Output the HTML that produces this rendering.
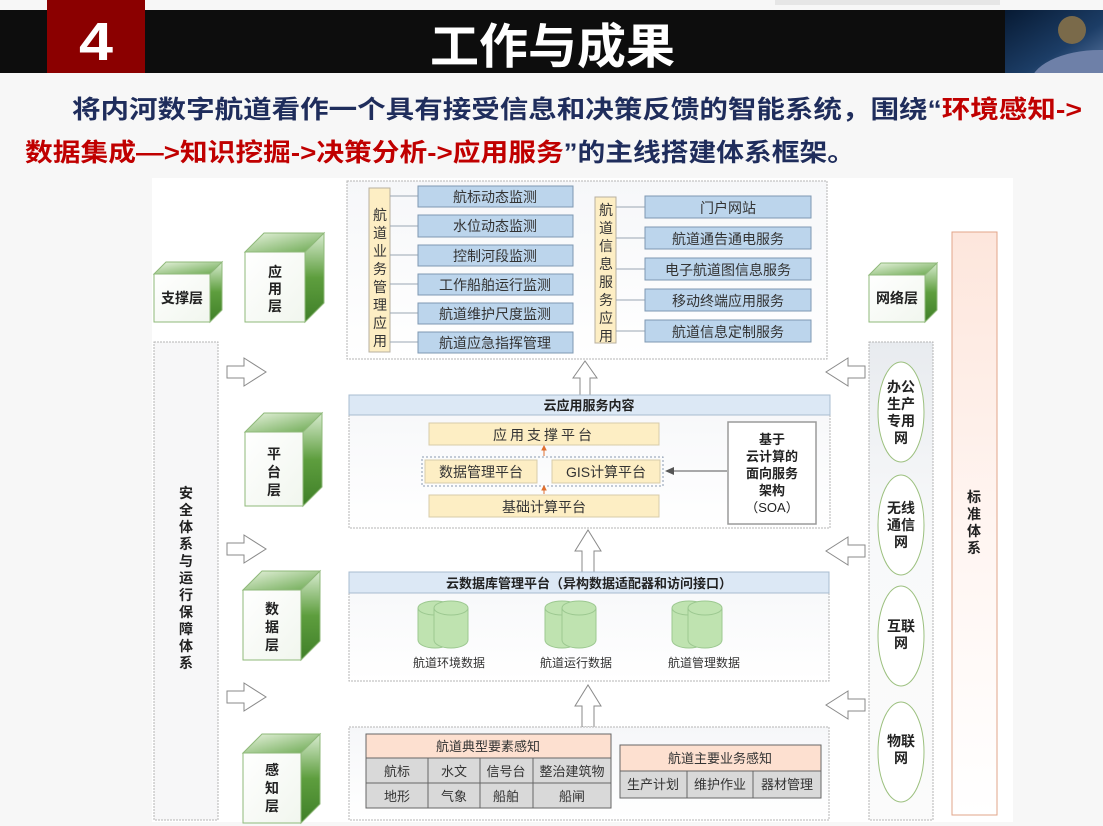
<!DOCTYPE html>
<html><head><meta charset="utf-8"><style>
html,body{margin:0;padding:0;background:#f7f7f7;}
body{width:1103px;height:826px;position:relative;overflow:hidden;font-family:"Liberation Sans","Noto Sans CJK SC",sans-serif;}
svg{position:absolute;left:0;top:0}
</style></head><body>
<svg width="1103" height="826" viewBox="0 0 1103 826" font-family="Liberation Sans, Noto Sans CJK SC, sans-serif">
<defs>
<linearGradient id="gTop" x1="0" y1="0" x2="1" y2="1"><stop offset="0" stop-color="#e8f3df"/><stop offset="1" stop-color="#6aa84f"/></linearGradient>
<linearGradient id="gRight" x1="0" y1="0" x2="0" y2="1"><stop offset="0" stop-color="#d8ecd0"/><stop offset="0.5" stop-color="#5e9e3e"/><stop offset="1" stop-color="#3f7f28"/></linearGradient>
<linearGradient id="gFront" x1="0" y1="0" x2="1" y2="1"><stop offset="0" stop-color="#ffffff"/><stop offset="1" stop-color="#f1f6ee"/></linearGradient>
<linearGradient id="gPanel" x1="0" y1="0" x2="0" y2="1"><stop offset="0" stop-color="#f6f7f9"/><stop offset="1" stop-color="#ffffff"/></linearGradient>
<linearGradient id="gStd" x1="0" y1="0" x2="0" y2="1"><stop offset="0" stop-color="#fde6dc"/><stop offset="0.5" stop-color="#fff5f1"/><stop offset="1" stop-color="#ffffff"/></linearGradient>
<linearGradient id="gNet" x1="0" y1="0" x2="0" y2="1"><stop offset="0" stop-color="#e8ebef"/><stop offset="0.4" stop-color="#f8f9fa"/><stop offset="1" stop-color="#fbfbfb"/></linearGradient>
<linearGradient id="gImg" x1="0" y1="0" x2="1" y2="1"><stop offset="0" stop-color="#071a33"/><stop offset="0.6" stop-color="#1c3d66"/><stop offset="1" stop-color="#5d79a3"/></linearGradient>
<clipPath id="imgClip"><rect x="1005" y="10" width="98" height="63"/></clipPath>
</defs>
<rect x="775" y="0" width="225" height="5" fill="#e6e6e6"/>
<rect x="0" y="10" width="1103" height="63" fill="#0d0d0d"/>
<rect x="47" y="0" width="98" height="73" fill="#8b0000"/>
<text x="96" y="60" font-size="54" font-weight="bold" fill="#fff" text-anchor="middle" textLength="34" lengthAdjust="spacingAndGlyphs">4</text>
<text x="430" y="63" font-size="48" font-weight="bold" fill="#fff" textLength="245" lengthAdjust="spacingAndGlyphs">工作与成果</text>
<g clip-path="url(#imgClip)">
<rect x="1005" y="10" width="98" height="63" fill="url(#gImg)"/>
<circle cx="1072" cy="30" r="14" fill="#7a6a4a"/>
<ellipse cx="1100" cy="85" rx="70" ry="35" fill="#6e80a8"/>
</g>
<text x="72" y="118" font-size="25" font-weight="bold" fill="#1f2d5c" textLength="1010" lengthAdjust="spacingAndGlyphs">将内河数字航道看作一个具有接受信息和决策反馈的智能系统，围绕“<tspan fill="#c00000">环境感知-&gt;</tspan></text>
<text x="25" y="161" font-size="25" font-weight="bold" fill="#c00000" textLength="830" lengthAdjust="spacingAndGlyphs">数据集成—&gt;知识挖掘-&gt;决策分析-&gt;应用服务<tspan fill="#1f2d5c">”的主线搭建体系框架。</tspan></text>
<rect x="152" y="178" width="861" height="644" fill="#fff"/>

<rect x="154" y="342" width="64" height="478" fill="#f7f7f8" stroke="#b5b5b5" stroke-dasharray="2,1"/>
<g font-size="14" font-weight="bold" fill="#222" text-anchor="middle">
<text x="186" y="498">安</text><text x="186" y="515">全</text><text x="186" y="532">体</text><text x="186" y="549">系</text><text x="186" y="566">与</text><text x="186" y="583">运</text><text x="186" y="600">行</text><text x="186" y="617">保</text><text x="186" y="634">障</text><text x="186" y="651">体</text><text x="186" y="668">系</text>
</g>

<g stroke="#8fb97a" stroke-width="1">
<polygon points="154,274 166,262 222,262 210,274" fill="url(#gTop)"/><polygon points="210,274 222,262 222,310 210,322" fill="url(#gRight)"/><rect x="154" y="274" width="56" height="48" fill="url(#gFront)"/>
<polygon points="245,252 264,233 324,233 305,252" fill="url(#gTop)"/><polygon points="305,252 324,233 324,303 305,322" fill="url(#gRight)"/><rect x="245" y="252" width="60" height="70" fill="url(#gFront)"/>
<polygon points="245,432 264,413 322,413 303,432" fill="url(#gTop)"/><polygon points="303,432 322,413 322,487 303,506" fill="url(#gRight)"/><rect x="245" y="432" width="58" height="74" fill="url(#gFront)"/>
<polygon points="243,590 262,571 320,571 301,590" fill="url(#gTop)"/><polygon points="301,590 320,571 320,641 301,660" fill="url(#gRight)"/><rect x="243" y="590" width="58" height="70" fill="url(#gFront)"/>
<polygon points="243,753 262,734 320,734 301,753" fill="url(#gTop)"/><polygon points="301,753 320,734 320,804 301,823" fill="url(#gRight)"/><rect x="243" y="753" width="58" height="70" fill="url(#gFront)"/>
<polygon points="869,275 881,263 937,263 925,275" fill="url(#gTop)"/><polygon points="925,275 937,263 937,310 925,322" fill="url(#gRight)"/><rect x="869" y="275" width="56" height="47" fill="url(#gFront)"/>
</g>
<g font-size="14" font-weight="bold" fill="#222" text-anchor="middle">
<text x="182" y="303">支撑层</text>
<text x="275" y="277">应</text><text x="275" y="294">用</text><text x="275" y="311">层</text>
<text x="274" y="459">平</text><text x="274" y="477">台</text><text x="274" y="495">层</text>
<text x="272" y="614">数</text><text x="272" y="632">据</text><text x="272" y="650">层</text>
<text x="272" y="775">感</text><text x="272" y="793">知</text><text x="272" y="811">层</text>
<text x="897" y="303">网络层</text>
</g>

<g fill="#fff" stroke="#8a8a8a" stroke-width="1">
<polygon points="227,366 244,366 244,358 266,372 244,386 244,378 227,378"/>
<polygon points="227,543 244,543 244,535 266,549 244,563 244,555 227,555"/>
<polygon points="227,691 244,691 244,683 266,697 244,711 244,703 227,703"/>
<polygon points="865,366 848,366 848,358 826,372 848,386 848,378 865,378"/>
<polygon points="865,545 848,545 848,537 826,551 848,565 848,557 865,557"/>
<polygon points="865,699 848,699 848,691 826,705 848,719 848,711 865,711"/>
<polygon points="580,395 580,378 573,378 585,361 597,378 590,378 590,395"/>
<polygon points="582,572 582,551 575,551 588,530 601,551 594,551 594,572"/>
<polygon points="582,727 582,706 575,706 588,685 601,706 594,706 594,727"/>
</g>

<rect x="347" y="181" width="480" height="178" fill="url(#gPanel)" stroke="#b5b5b5" stroke-dasharray="2,1"/>
<rect x="369" y="188" width="21" height="164" fill="#fdeec4" stroke="#b8b0a0"/>
<g font-size="14" fill="#333" text-anchor="middle">
<text x="380" y="220">航</text><text x="380" y="238">道</text><text x="380" y="256">业</text><text x="380" y="274">务</text><text x="380" y="292">管</text><text x="380" y="310">理</text><text x="380" y="328">应</text><text x="380" y="346">用</text>
</g>
<g stroke="#9aa6b3"><line x1="390" y1="196" x2="418" y2="196"/><line x1="390" y1="226" x2="418" y2="226"/><line x1="390" y1="255" x2="418" y2="255"/><line x1="390" y1="284" x2="418" y2="284"/><line x1="390" y1="313" x2="418" y2="313"/><line x1="390" y1="342" x2="418" y2="342"/></g>
<g fill="#bcd5ec" stroke="#7e98b2">
<rect x="418" y="186" width="155" height="21"/><rect x="418" y="215" width="155" height="22"/><rect x="418" y="245" width="155" height="21"/><rect x="418" y="274" width="155" height="21"/><rect x="418" y="303" width="155" height="21"/><rect x="418" y="332" width="155" height="21"/>
</g>
<g font-size="14" fill="#333" text-anchor="middle">
<text x="495" y="202">航标动态监测</text><text x="495" y="231">水位动态监测</text><text x="495" y="261">控制河段监测</text><text x="495" y="290">工作船舶运行监测</text><text x="495" y="319">航道维护尺度监测</text><text x="495" y="348">航道应急指挥管理</text>
</g>
<rect x="595" y="197" width="21" height="146" fill="#fdeec4" stroke="#b8b0a0"/>
<g font-size="14" fill="#333" text-anchor="middle">
<text x="606" y="215">航</text><text x="606" y="233">道</text><text x="606" y="251">信</text><text x="606" y="269">息</text><text x="606" y="287">服</text><text x="606" y="305">务</text><text x="606" y="323">应</text><text x="606" y="341">用</text>
</g>
<g stroke="#9aa6b3"><line x1="616" y1="207" x2="645" y2="207"/><line x1="616" y1="238" x2="645" y2="238"/><line x1="616" y1="269" x2="645" y2="269"/><line x1="616" y1="300" x2="645" y2="300"/><line x1="616" y1="331" x2="645" y2="331"/></g>
<g fill="#bcd5ec" stroke="#7e98b2">
<rect x="645" y="196" width="166" height="22"/><rect x="645" y="227" width="166" height="22"/><rect x="645" y="258" width="166" height="22"/><rect x="645" y="289" width="166" height="22"/><rect x="645" y="320" width="166" height="22"/>
</g>
<g font-size="14" fill="#333" text-anchor="middle">
<text x="728" y="213">门户网站</text><text x="728" y="244">航道通告通电服务</text><text x="728" y="275">电子航道图信息服务</text><text x="728" y="306">移动终端应用服务</text><text x="728" y="337">航道信息定制服务</text>
</g>

<rect x="349" y="395" width="481" height="133" fill="url(#gPanel)" stroke="#b5b5b5" stroke-dasharray="2,1"/>
<rect x="349" y="395" width="481" height="20" fill="#dce8f5" stroke="#a8bcd0"/>
<text x="589" y="410" font-size="13" font-weight="bold" fill="#222" text-anchor="middle">云应用服务内容</text>
<rect x="429" y="423" width="230" height="22" fill="#fdeec4" stroke="#d8ccaa"/>
<text x="544" y="440" font-size="14" fill="#333" text-anchor="middle" letter-spacing="3">应用支撑平台</text>
<rect x="422" y="457" width="241" height="29" fill="none" stroke="#8a9ab0" stroke-dasharray="2,2"/>
<rect x="425" y="460" width="112" height="23" fill="#fdeec4" stroke="#d8ccaa"/>
<text x="481" y="477" font-size="14" fill="#333" text-anchor="middle">数据管理平台</text>
<rect x="552" y="460" width="108" height="23" fill="#fdeec4" stroke="#d8ccaa"/>
<text x="606" y="477" font-size="14" fill="#333" text-anchor="middle">GIS计算平台</text>
<rect x="429" y="495" width="230" height="22" fill="#fdeec4" stroke="#d8ccaa"/>
<text x="544" y="512" font-size="14" fill="#333" text-anchor="middle">基础计算平台</text>
<g stroke="#e07030" fill="#e07030"><line x1="544" y1="449" x2="544" y2="456"/><polygon points="542,450 546,450 544,446"/><line x1="544" y1="489" x2="544" y2="494"/><polygon points="542,490 546,490 544,486"/></g>
<rect x="728" y="422" width="88" height="102" fill="#fff" stroke="#9a9a9a" stroke-width="1.5"/>
<g font-size="13" font-weight="bold" fill="#222" text-anchor="middle">
<text x="772" y="444">基于</text><text x="772" y="461">云计算的</text><text x="772" y="478">面向服务</text><text x="772" y="495">架构</text><text x="772" y="512" font-weight="normal">（SOA）</text>
</g>
<line x1="727" y1="471" x2="672" y2="471" stroke="#555"/><polygon points="665,471 674,467 674,475" fill="#555"/>

<rect x="349" y="572" width="480" height="109" fill="url(#gPanel)" stroke="#b5b5b5" stroke-dasharray="2,1"/>
<rect x="349" y="572" width="480" height="21" fill="#dce8f5" stroke="#a8bcd0"/>
<text x="589" y="588" font-size="13" font-weight="bold" fill="#222" text-anchor="middle">云数据库管理平台（异构数据适配器和访问接口）</text>
<g fill="#bfe3b0" stroke="#9cc890">
<path d="M418,608 v32 a17,8 0 0 0 34,0 v-32"/><ellipse cx="435" cy="608" rx="17" ry="7"/>
<path d="M434,608 v32 a17,8 0 0 0 34,0 v-32"/><ellipse cx="451" cy="608" rx="17" ry="7"/>
<path d="M545,608 v32 a17,8 0 0 0 34,0 v-32"/><ellipse cx="562" cy="608" rx="17" ry="7"/>
<path d="M562,608 v32 a17,8 0 0 0 34,0 v-32"/><ellipse cx="579" cy="608" rx="17" ry="7"/>
<path d="M672,608 v32 a17,8 0 0 0 34,0 v-32"/><ellipse cx="689" cy="608" rx="17" ry="7"/>
<path d="M688,608 v32 a17,8 0 0 0 34,0 v-32"/><ellipse cx="705" cy="608" rx="17" ry="7"/>
</g>
<g font-size="12" fill="#333" text-anchor="middle"><text x="449" y="667">航道环境数据</text><text x="576" y="667">航道运行数据</text><text x="704" y="667">航道管理数据</text></g>

<rect x="349" y="727" width="480" height="93" fill="url(#gPanel)" stroke="#b5b5b5" stroke-dasharray="2,1"/>
<rect x="366" y="734" width="245" height="24" fill="#fde0d0" stroke="#666"/>
<rect x="366" y="758" width="245" height="50" fill="#d9d9d9" stroke="#666"/>
<g stroke="#666"><line x1="366" y1="783" x2="611" y2="783"/><line x1="428" y1="758" x2="428" y2="808"/><line x1="480" y1="758" x2="480" y2="808"/><line x1="533" y1="758" x2="533" y2="808"/></g>
<g font-size="13" fill="#333" text-anchor="middle">
<text x="488" y="751">航道典型要素感知</text>
<text x="397" y="776">航标</text><text x="454" y="776">水文</text><text x="506" y="776">信号台</text><text x="572" y="776">整治建筑物</text>
<text x="397" y="801">地形</text><text x="454" y="801">气象</text><text x="506" y="801">船舶</text><text x="572" y="801">船闸</text>
</g>
<rect x="620" y="745" width="201" height="26" fill="#fde0d0" stroke="#666"/>
<rect x="620" y="771" width="201" height="27" fill="#d9d9d9" stroke="#666"/>
<g stroke="#666"><line x1="687" y1="771" x2="687" y2="798"/><line x1="753" y1="771" x2="753" y2="798"/></g>
<g font-size="13" fill="#333" text-anchor="middle">
<text x="720" y="763">航道主要业务感知</text>
<text x="653" y="789">生产计划</text><text x="720" y="789">维护作业</text><text x="787" y="789">器材管理</text>
</g>

<rect x="869" y="342" width="64" height="478" fill="url(#gNet)" stroke="#b5b5b5" stroke-dasharray="2,1"/>
<g fill="#fff" stroke="#9cc07f">
<ellipse cx="901" cy="412" rx="23" ry="50"/><ellipse cx="901" cy="525" rx="23" ry="50"/><ellipse cx="901" cy="636" rx="23" ry="50"/><ellipse cx="901" cy="752" rx="23" ry="50"/>
</g>
<g font-size="14" font-weight="bold" fill="#222" text-anchor="middle">
<text x="901" y="392">办公</text><text x="901" y="409">生产</text><text x="901" y="426">专用</text><text x="901" y="443">网</text>
<text x="901" y="513">无线</text><text x="901" y="530">通信</text><text x="901" y="547">网</text>
<text x="901" y="631">互联</text><text x="901" y="648">网</text>
<text x="901" y="746">物联</text><text x="901" y="763">网</text>
</g>
<rect x="952" y="232" width="45" height="583" fill="url(#gStd)" stroke="#e2a58a"/>
<g font-size="14" font-weight="bold" fill="#222" text-anchor="middle">
<text x="974" y="502">标</text><text x="974" y="519">准</text><text x="974" y="536">体</text><text x="974" y="553">系</text>
</g>
</svg>
</body></html>
